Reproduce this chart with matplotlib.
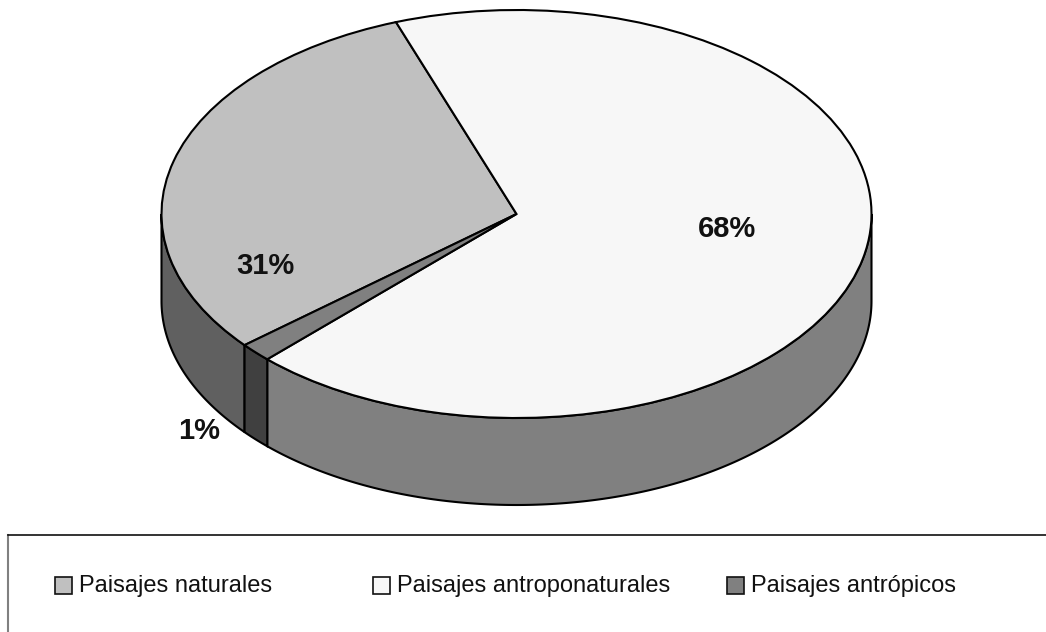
import matplotlib
matplotlib.use("Agg")
import matplotlib.pyplot as plt
from matplotlib.patches import Rectangle
from matplotlib.lines import Line2D
import numpy as np

categorias = ["Paisajes naturales", "Paisajes antroponaturales", "Paisajes antrópicos"]
valores = [30.6, 67.9, 1.5]   # las etiquetas van redondeadas
etiquetas = ["31%", "68%", "1%"]
color_tapa = ["#c0c0c0", "#f7f7f7", "#808080"]
color_lado = ["#606060", "#808080", "#404040"]

W, H = 1046, 632
cx, cy = 516.5, 214    # centro de la tapa en pixeles
rx, ry = 355, 204      # semiejes
prof = 87 / ry         # altura del cilindro
inicio = 220           # angulo inicial, sentido horario

plt.rcParams["font.family"] = ["Liberation Sans", "DejaVu Sans"]

fig = plt.figure(figsize=(W / 100, H / 100), dpi=100, facecolor="white")
ax = fig.add_axes([0, 0, 1, 1])

# la tapa
ax.pie(valores, colors=color_tapa, startangle=inicio, counterclock=False,
       wedgeprops=dict(edgecolor="black", linewidth=1.5, zorder=3))
ax.set_aspect("auto")
ax.set_xlim(-cx / rx, (W - cx) / rx)
ax.set_ylim(-(H - cy) / ry, cy / ry)
ax.axis("off")

# los lados del cilindro, solo la mitad de delante
ang = inicio
for v, c in zip(valores, color_lado):
    fin = ang - v * 3.6
    t1, t2 = fin % 360, (fin % 360) + v * 3.6
    lo, hi = max(t1, 180), min(t2, 360)
    if hi > lo:
        t = np.radians(np.linspace(lo, hi, 200))
        x = np.cos(t)
        y = np.sin(t)
        ax.fill(np.r_[x, x[::-1]], np.r_[y, y[::-1] - prof],
                facecolor=c, edgecolor="black", linewidth=1.5, zorder=2)
    ang = fin


def px(x, y):
    return x / W, 1 - y / H


# porcentajes
pos_etiq = [(265, 266), (727, 229), (199, 431)]
for (x, y), s in zip(pos_etiq, etiquetas):
    fig.text(*px(x, y), s, fontsize=21, fontweight="bold", color="#111111",
             ha="center", va="center", zorder=5)

# leyenda
fig.add_artist(Line2D([8 / W, 8 / W], [0, 1 - 535 / H], color="#808080", linewidth=1.5))
fig.add_artist(Line2D([8 / W, 1], [1 - 535 / H, 1 - 535 / H], color="#111111", linewidth=1.2))
pos_ley = [55, 373, 727]
for x, s, c in zip(pos_ley, categorias, color_tapa):
    fig.add_artist(Rectangle(px(x, 594), 17 / W, 17 / H, transform=fig.transFigure,
                             facecolor=c, edgecolor="#111111", linewidth=1.2))
    fig.text(*px(x + 24, 592), s, fontsize=17, color="#111111", ha="left", va="baseline")

fig.savefig("out.png", dpi=100)
